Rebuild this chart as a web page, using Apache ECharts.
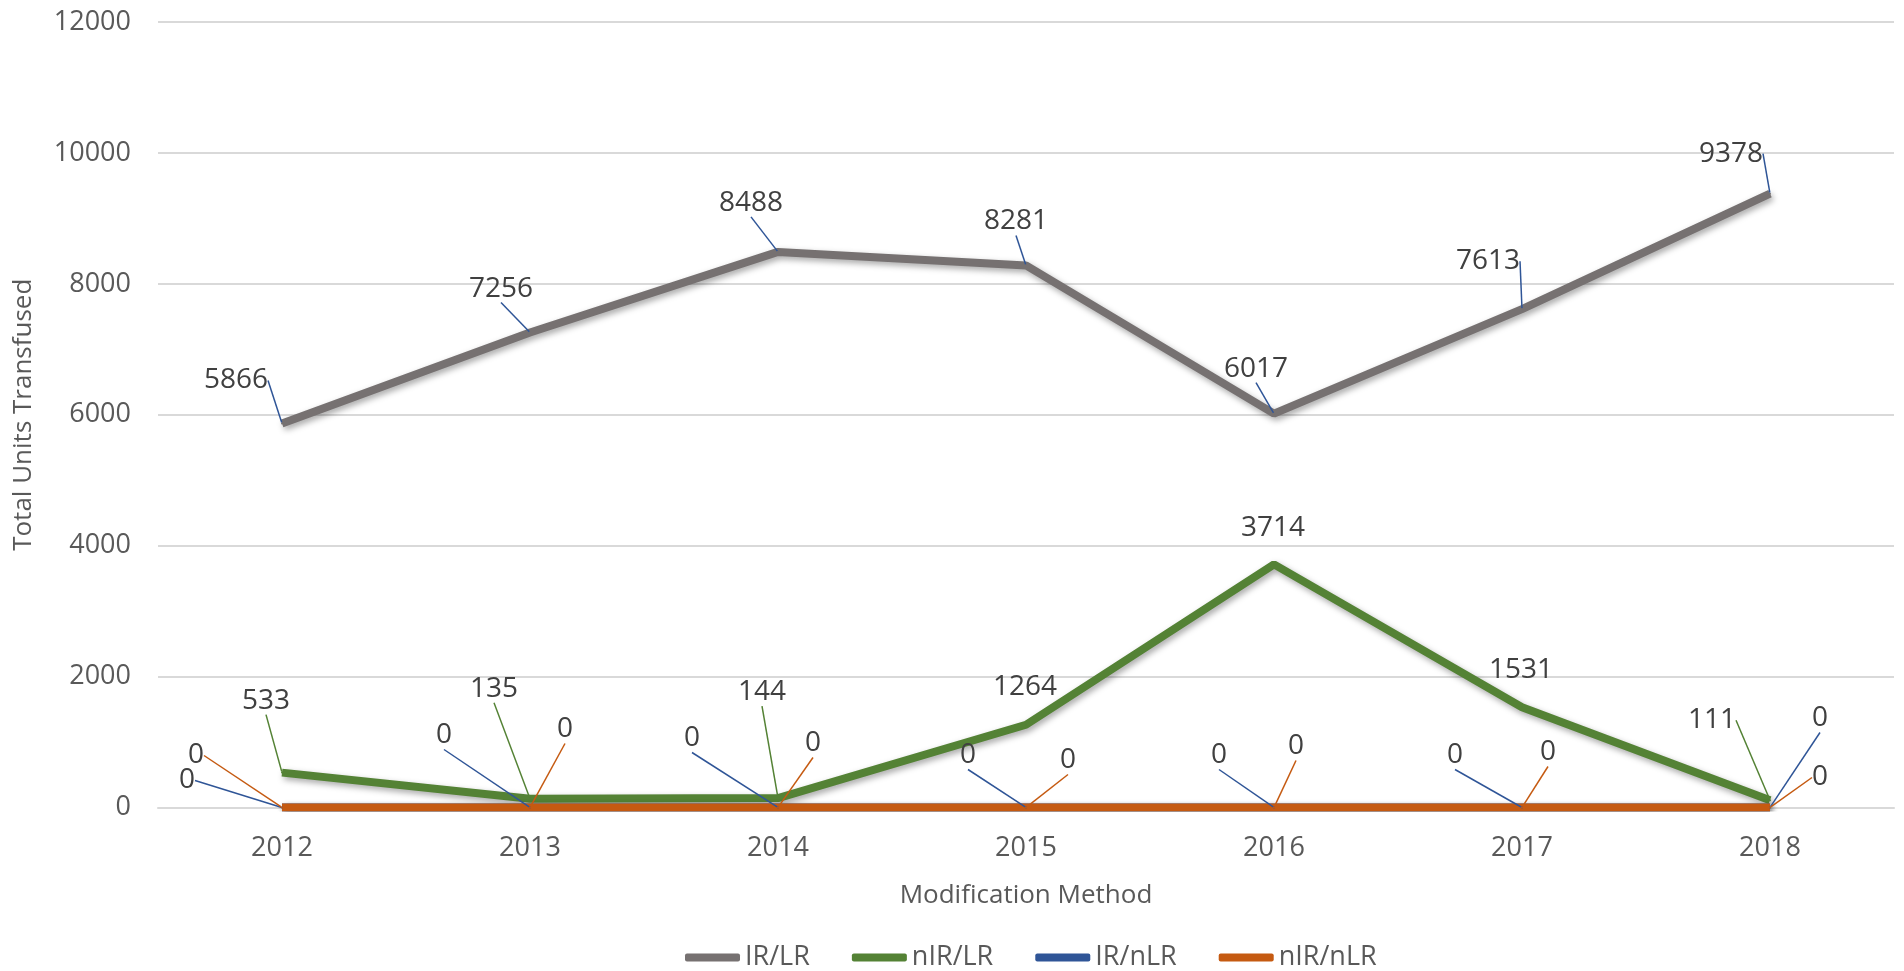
<!DOCTYPE html>
<html lang="en">
<head>
    <meta charset="UTF-8">
    <title>Total Units Transfused</title>
    <script src="https://cdn.jsdelivr.net/npm/echarts@6/dist/echarts.min.js"></script>
    <style>
        html, body { margin: 0; padding: 0; background: #fff; }
        #chart { width: 1904px; height: 971px; }
    </style>
</head>
<body>
<div id="chart"></div>
<script>
    // data
    const years = ['2012', '2013', '2014', '2015', '2016', '2017', '2018'];
    const irLr = [5866, 7256, 8488, 8281, 6017, 7613, 9378];
    const nirLr = [533, 135, 144, 1264, 3714, 1531, 111];
    const irNlr = [0, 0, 0, 0, 0, 0, 0];
    const nirNlr = [0, 0, 0, 0, 0, 0, 0];
    const yTicks = [0, 2000, 4000, 6000, 8000, 10000, 12000];

    // where each data label sits relative to its point (px dx, dy, leader line on/off)
    const labelOffsets = {
        'IR/LR':   [[-46, -43, 1], [-29, -44, 1], [-27, -49, 1], [-10, -44, 1], [-18, -45, 1], [-34, -48, 1], [-39, -40, 1]],
        'nIR/LR':  [[-16, -72, 1], [-36, -110, 1], [-16, -106, 1], [-1, -38, 0], [-1, -36, 0], [-1, -37, 0], [-58, -80, 1]],
        'IR/nLR':  [[-95, -27, 1], [-86, -72, 1], [-86, -69, 1], [-58, -52, 1], [-55, -52, 1], [-67, -52, 1], [50, -89, 1]],
        'nIR/nLR': [[-86, -52, 1], [35, -78, 1], [35, -64, 1], [42, -47, 1], [22, -61, 1], [26, -55, 1], [50, -30, 1]]
    };

    const FONT = '"Open Sans", "Noto Sans", sans-serif';

    function makeSeries(name, values, color, leaderColor) {
        const offs = labelOffsets[name];
        return {
            name: name,
            type: 'line',
            data: values.map(function (v, i) {
                return { value: v, labelLine: { show: offs[i][2] === 1 } };
            }),
            symbol: 'circle',
            symbolSize: 2,
            showSymbol: true,
            itemStyle: { color: color },
            lineStyle: {
                color: color,
                width: 8,
                shadowColor: 'rgba(0,0,0,0.35)',
                shadowBlur: 6,
                shadowOffsetX: 2,
                shadowOffsetY: 3
            },
            label: {
                show: true,
                position: 'top',
                color: '#404040',
                fontFamily: FONT,
                fontSize: 28
            },
            labelLine: {
                show: true,
                lineStyle: { color: leaderColor, width: 1.5 }
            },
            labelLayout: function (p) {
                const o = offs[p.dataIndex];
                return {
                    x: p.rect.x + p.rect.width / 2 + o[0],
                    y: p.rect.y + p.rect.height / 2 + o[1],
                    align: 'center',
                    verticalAlign: 'middle'
                };
            },
            emphasis: { disabled: true }
        };
    }

    const chart = echarts.init(document.getElementById('chart'));
    const option = {
        animation: false,
        textStyle: { fontFamily: FONT },
        grid: { left: 158, right: 10, top: 22, bottom: 163.5, containLabel: false },
        legend: {
            data: ['IR/LR', 'nIR/LR', 'IR/nLR', 'nIR/nLR'],
            left: 680,
            top: 939,
            icon: 'roundRect',
            itemWidth: 55,
            itemHeight: 8,
            itemGap: 42,
            textStyle: { color: '#595959', fontSize: 27, fontFamily: FONT }
        },
        xAxis: {
            type: 'category',
            data: years,
            boundaryGap: true,
            name: 'Modification Method',
            nameLocation: 'middle',
            nameGap: 75,
            nameTextStyle: { color: '#595959', fontSize: 26, fontFamily: FONT },
            axisLine: { show: true, lineStyle: { color: '#D9D9D9', width: 2 } },
            axisTick: { show: false },
            axisLabel: { color: '#595959', fontSize: 27, margin: 27, fontFamily: FONT }
        },
        yAxis: {
            type: 'value',
            min: yTicks[0],
            max: yTicks[yTicks.length - 1],
            interval: 2000,
            name: 'Total Units Transfused',
            nameLocation: 'middle',
            nameGap: 121,
            nameTextStyle: { color: '#595959', fontSize: 26, fontFamily: FONT },
            axisLine: { show: false },
            axisTick: { show: false },
            axisLabel: {
                color: '#595959', fontSize: 27, margin: 27, fontFamily: FONT,
                formatter: function (v) { return String(v); }
            },
            splitLine: { lineStyle: { color: '#D9D9D9', width: 2 } }
        },
        series: [
            makeSeries('IR/LR', irLr, '#767171', '#2F5597'),
            makeSeries('nIR/LR', nirLr, '#548235', '#548235'),
            makeSeries('IR/nLR', irNlr, '#2F5597', '#2F5597'),
            makeSeries('nIR/nLR', nirNlr, '#C55A11', '#C55A11')
        ]
    };
    chart.setOption(option);
</script>
</body>
</html>
